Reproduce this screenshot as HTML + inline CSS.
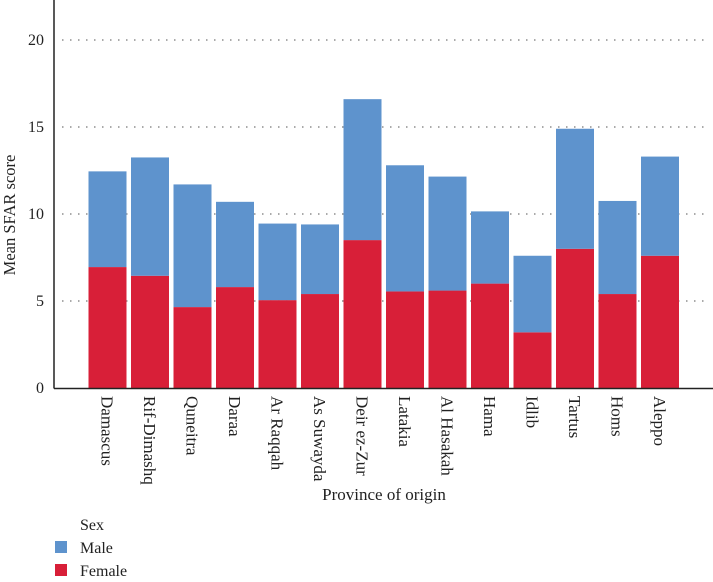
<!DOCTYPE html>
<html><head><meta charset="utf-8"><style>
body{margin:0;background:#fff;}
svg text{font-family:"Liberation Serif",serif;fill:#222;}
</style></head><body>
<svg id="chart" width="713" height="577" xmlns="http://www.w3.org/2000/svg">
<g id="grid"></g>
<g id="bars"></g>
<g id="axes"></g>
<text transform="translate(15,215) rotate(-90)" text-anchor="middle" font-size="16.5">Mean SFAR score</text>
<text x="384" y="500" text-anchor="middle" font-size="17">Province of origin</text>
<g>
<text x="80" y="530" font-size="16">Sex</text>
<rect x="55" y="541" width="12" height="12" fill="#5e93cd"/>
<text x="80" y="553" font-size="16">Male</text>
<rect x="55" y="564" width="12" height="12" fill="#d81f38"/>
<text x="80" y="576" font-size="16">Female</text>
</g>
</svg>
<script>
const categories=["Damascus","Rif-Dimashq","Quneitra","Daraa","Ar Raqqah","As Suwayda","Deir ez-Zur","Latakia","Al Hasakah","Hama","Idlib","Tartus","Homs","Aleppo"];
const female=[6.95,6.45,4.65,5.8,5.05,5.4,8.5,5.55,5.6,6.0,3.2,8.0,5.4,7.6];
const male=[5.5,6.8,7.05,4.9,4.4,4.0,8.1,7.25,6.55,4.15,4.4,6.9,5.35,5.7];
const yTicks=[0,5,10,15,20];
const NS="http://www.w3.org/2000/svg";
const y0=388,pxPerUnit=17.4;
function yScale(v){return y0-v*pxPerUnit;}
const band=42.5,bw=38,x0=88.5;
function xScale(i){return x0+i*band;}
function mk(t,a,p){const e=document.createElementNS(NS,t);for(const k in a)e.setAttribute(k,a[k]);p.appendChild(e);return e;}
const grid=document.getElementById('grid'),bars=document.getElementById('bars'),axes=document.getElementById('axes');
yTicks.forEach(t=>{
  if(t>0){const l=mk('line',{x1:62,x2:706,y1:yScale(t),y2:yScale(t),stroke:'#777','stroke-width':1.2,'stroke-dasharray':'1.5,6.5'},grid);
  
  }
  const tx=mk('text',{x:44,y:yScale(t)+5,'text-anchor':'end','font-size':16},axes);tx.textContent=t;
  
  
});
categories.forEach((c,i)=>{
  const x=xScale(i);
  const rf=mk('rect',{x:x,y:yScale(female[i]),width:bw,height:yScale(0)-yScale(female[i]),fill:'#d81f38'},bars);
  
  
  const tot=female[i]+male[i];
  const rm=mk('rect',{x:x,y:yScale(tot),width:bw,height:yScale(female[i])-yScale(tot),fill:'#5e93cd'},bars);
  
  
  const tl=mk('text',{transform:`translate(${x+bw/2-6},396) rotate(90)`,'font-size':17},axes);tl.textContent=c;
  
  
});
const ya=mk('line',{x1:54,x2:54,y1:0,y2:388.5,stroke:'#222','stroke-width':1.5},axes);


const xa=mk('line',{x1:54,x2:713,y1:388.5,y2:388.5,stroke:'#222','stroke-width':1.5},axes);


</script>
</body></html>
